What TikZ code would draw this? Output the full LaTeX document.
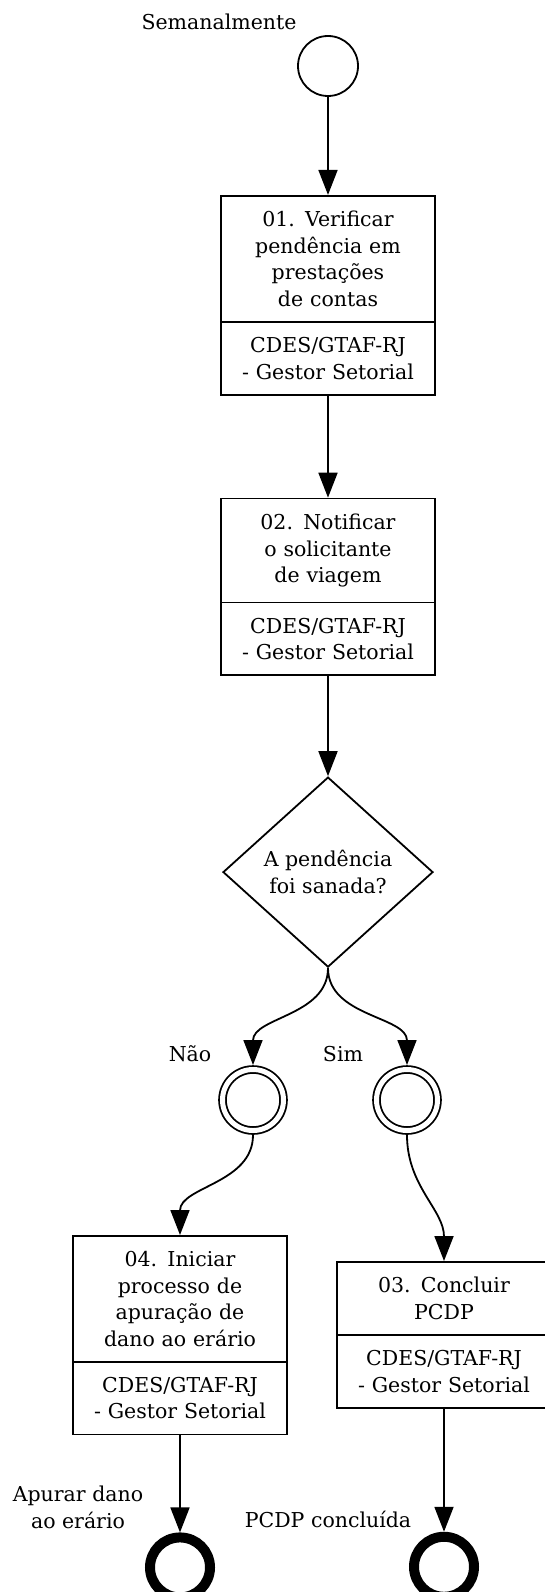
\documentclass[tikz,border=0pt]{standalone}
\usepackage{fontspec}
\setmainfont{DejaVu Serif}
\usetikzlibrary{arrows.meta,positioning,shapes.geometric,shapes.multipart}

\begin{document}
\begin{tikzpicture}[x=1pt,y=-1pt,
    font=\fontsize{20.5}{26.5}\selectfont,
    flow/.style={-{Triangle[length=25pt,width=19pt]},line width=1.8pt},
    task/.style={draw,line width=1.8pt,rectangle split,rectangle split parts=2,
        text width=190pt,align=center,inner xsep=12pt,inner ysep=14.5pt},
    gate/.style={draw,line width=1.8pt,diamond,minimum width=210pt,
        minimum height=190pt,inner sep=0pt,align=center},
    startev/.style={draw,circle,line width=1.8pt,minimum size=60pt,inner sep=0pt},
    interev/.style={draw,circle,line width=1.8pt,double,double distance=5pt,
        minimum size=61pt,inner sep=0pt,outer sep=4.5pt},
    endev/.style={draw,circle,line width=10pt,minimum size=60pt,inner sep=0pt},
    lbl/.style={align=center,inner sep=0pt}]
            \useasboundingbox (0,0) rectangle (544,1592);

            \node[startev] (start) at (328,66) {};
            \node[task] (t01) [below=98pt of start] {01. Verificar\\pendência em\\prestações\\de contas
                \nodepart{two} CDES/GTAF-RJ\\- Gestor Setorial};
            \node[task] (t02) [below=102pt of t01] {02. Notificar\\o solicitante\\de viagem
                \nodepart{two} CDES/GTAF-RJ\\- Gestor Setorial};
            \node[gate] (gate) [below=100pt of t02] {A pendência\\foi sanada?};

            \path[draw,flow] (start) -- (t01);
            \path[draw,flow] (t01) -- (t02);
            \path[draw,flow] (t02) -- (gate);

            \node[interev] (gno) [below=97pt of gate, xshift=-75pt] {};
            \node[interev] (gyes) [below=97pt of gate, xshift=79pt] {};

            \path[draw,flow] (gate.south) to[out=-90,in=90] (gno.north);
            \path[draw,flow] (gate.south) to[out=-90,in=90] (gyes.north);

            \node[task] (t04) [below=100pt of gno, xshift=-73pt] {04. Iniciar\\processo de\\apuração de\\dano ao erário
                \nodepart{two} CDES/GTAF-RJ\\- Gestor Setorial};
            \node[task] (t03) [below=126pt of gyes, xshift=37pt] {03. Concluir\\PCDP
                \nodepart{two} CDES/GTAF-RJ\\- Gestor Setorial};

            \path[draw,flow] (gno.south) to[out=-90,in=90] (t04.north);
            \path[draw,flow] (gyes.south) to[out=-90,in=90] (t03.north);

            \node[endev] (end1) [below=97pt of t04] {};
            \node[endev] (end2) [below=123pt of t03] {};

            \path[draw,flow] (t04) -- (end1);
            \path[draw,flow] (t03) -- (end2);

            \node[lbl] (lbstart) [above left=44pt and 109pt of start.center, anchor=center] {Semanalmente};
            \node[lbl] (lbno) [above left=46pt and 63pt of gno.center, anchor=center] {Não};
            \node[lbl] (lbyes) [above left=46pt and 64pt of gyes.center, anchor=center] {Sim};
            \node[lbl] (lbend1) [above left=60pt and 102pt of end1.center, anchor=center] {Apurar dano\\ao erário};
            \node[lbl] (lbend2) [above left=47pt and 116pt of end2.center, anchor=center] {PCDP concluída};
        \end{tikzpicture}
\end{document}
